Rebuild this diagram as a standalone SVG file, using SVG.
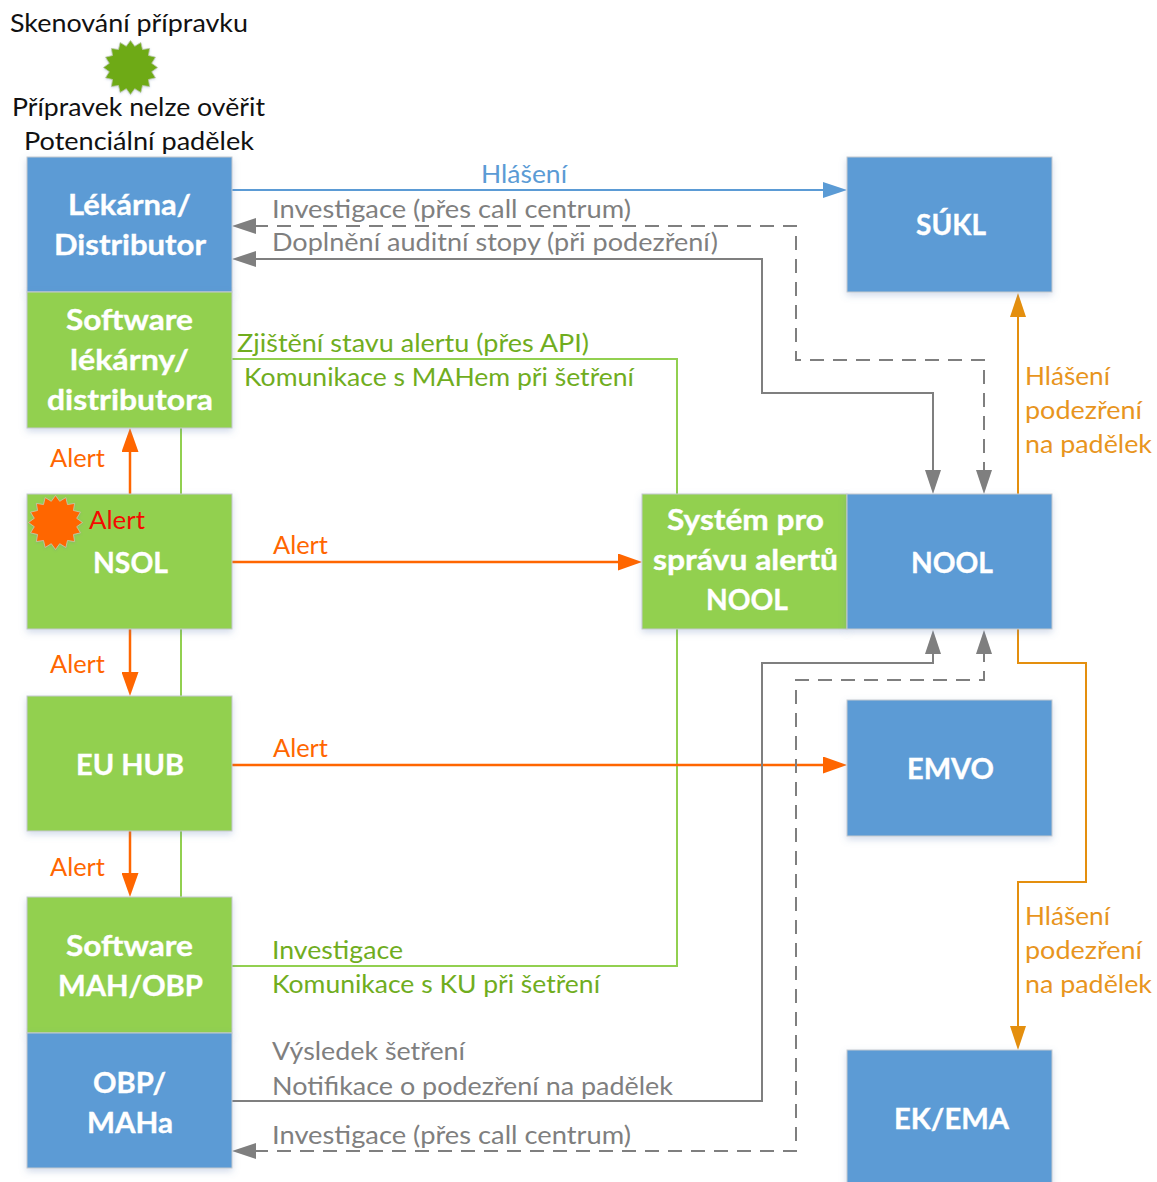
<svg xmlns="http://www.w3.org/2000/svg" width="1157" height="1182" viewBox="0 0 1157 1182">
<style>
text{font-family:"Lato","Carlito","Liberation Sans",sans-serif;font-size:25px}
.b{font-weight:700;font-size:29px;fill:#fff;stroke:#fff;stroke-width:.35}
.box{stroke:#c4c9cf;stroke-width:1;filter:url(#sh)}
.blue{fill:#5b9bd5}.green{fill:#92d050}
.k{fill:#111}.o{fill:#ff6600}.g{fill:#7f7f7f}.lg{fill:#70ad1e}.a{fill:#e8951d}.bt{fill:#5b9bd5}.r{fill:#f50a00}
.c{fill:none;stroke-width:2}
.co{stroke:#ff6600;stroke-width:2.5}.cg{stroke:#7f7f7f}.cl{stroke:#92d050}.ca{stroke:#e48f0e}.cb{stroke:#5b9bd5}
.d{stroke-dasharray:14 9}
</style>
<defs>
<filter id="sh" x="-10%" y="-10%" width="120%" height="125%"><feDropShadow dx="0" dy="3" stdDeviation="3.5" flood-color="#5b7fb5" flood-opacity=".28"/></filter>
<marker id="ao" markerUnits="userSpaceOnUse" markerWidth="24" markerHeight="17" viewBox="0 0 24 17" refX="2" refY="8.5" orient="auto-start-reverse"><path d="M0 0L24 8.5L0 17z" fill="#ff6600"/></marker>
<marker id="ag" markerUnits="userSpaceOnUse" markerWidth="24" markerHeight="16" viewBox="0 0 24 16" refX="2" refY="8" orient="auto-start-reverse"><path d="M0 0L24 8L0 16z" fill="#7f7f7f"/></marker>
<marker id="aa" markerUnits="userSpaceOnUse" markerWidth="24" markerHeight="16" viewBox="0 0 24 16" refX="2" refY="8" orient="auto-start-reverse"><path d="M0 0L24 8L0 16z" fill="#e48f0e"/></marker>
<marker id="ab" markerUnits="userSpaceOnUse" markerWidth="24" markerHeight="16" viewBox="0 0 24 16" refX="2" refY="8" orient="auto-start-reverse"><path d="M0 0L24 8L0 16z" fill="#5b9bd5"/></marker>
<polygon id="star" points="100,0 78.5,15.6 92.4,38.3 66.5,44.4 70.7,70.7 44.4,66.5 38.3,92.4 15.6,78.5 0,100 -15.6,78.5 -38.3,92.4 -44.4,66.5 -70.7,70.7 -66.5,44.4 -92.4,38.3 -78.5,15.6 -100,0 -78.5,-15.6 -92.4,-38.3 -66.5,-44.4 -70.7,-70.7 -44.4,-66.5 -38.3,-92.4 -15.6,-78.5 0,-100 15.6,-78.5 38.3,-92.4 44.4,-66.5 70.7,-70.7 66.5,-44.4 92.4,-38.3 78.5,-15.6"/>
</defs>

<g id="connectors">
<path class="c cb" d="M232 190H825" marker-end="url(#ab)"/>
<path class="c cg d" d="M254 226H796V360H984V472" marker-start="url(#ag)" marker-end="url(#ag)"/>
<path class="c cg" d="M254 259H762V393H933V472" marker-start="url(#ag)" marker-end="url(#ag)"/>
<path class="c cl" d="M232 359H677V494M677 629V966H232M181 428V494M181 629V696M181 831V897"/>
<path class="c co" d="M130 494V450" marker-end="url(#ao)"/>
<path class="c co" d="M130 629V674" marker-end="url(#ao)"/>
<path class="c co" d="M130 831V875" marker-end="url(#ao)"/>
<path class="c co" d="M232 562H620" marker-end="url(#ao)"/>
<path class="c co" d="M232 765H825" marker-end="url(#ao)"/>
<path class="c ca" d="M1018 494V315" marker-end="url(#aa)"/>
<path class="c ca" d="M1018 629V663H1086V882H1018V1028" marker-end="url(#aa)"/>
<path class="c cg" d="M232 1101H762V663H933V652" marker-end="url(#ag)"/>
<path class="c cg d" d="M254 1151H796V680H984V652" marker-start="url(#ag)" marker-end="url(#ag)"/>
</g>

<g id="scan">
<text class="k" x="10" y="32" textLength="238" lengthAdjust="spacingAndGlyphs">Skenování přípravku</text>
<use href="#star" transform="translate(130.5 67.5) scale(.27)" fill="#6eaa14" stroke="#b9c6a5" stroke-width="3" filter="url(#sh)"/>
<text class="k" x="12" y="116" textLength="253" lengthAdjust="spacingAndGlyphs">Přípravek nelze ověřit</text>
<text class="k" x="24" y="150" textLength="230" lengthAdjust="spacingAndGlyphs">Potenciální padělek</text>
</g>

<g id="node-lekarna"><rect class="box blue" x="27" y="157" width="205" height="135"/>
<text class="b" x="68" y="215" textLength="123" lengthAdjust="spacingAndGlyphs">Lékárna/</text>
<text class="b" x="54" y="255" textLength="152" lengthAdjust="spacingAndGlyphs">Distributor</text></g>

<g id="node-software-lekarny"><rect class="box green" x="27" y="292" width="205" height="136"/>
<text class="b" x="66" y="330" textLength="127" lengthAdjust="spacingAndGlyphs">Software</text>
<text class="b" x="70" y="370" textLength="119" lengthAdjust="spacingAndGlyphs">lékárny/</text>
<text class="b" x="47" y="410" textLength="166" lengthAdjust="spacingAndGlyphs">distributora</text></g>

<g id="node-nsol"><rect class="box green" x="27" y="494" width="205" height="135"/>
<use href="#star" transform="translate(55.5 522.5) scale(.27)" fill="#ff6600" stroke="#c9c9b0" stroke-width="3" filter="url(#sh)"/>
<text class="r" x="89" y="529" textLength="56" lengthAdjust="spacingAndGlyphs">Alert</text>
<text class="b" x="93" y="573" textLength="75" lengthAdjust="spacingAndGlyphs">NSOL</text></g>

<g id="node-eu-hub"><rect class="box green" x="27" y="696" width="205" height="135"/>
<text class="b" x="76" y="775" textLength="108" lengthAdjust="spacingAndGlyphs">EU HUB</text></g>

<g id="node-software-mah"><rect class="box green" x="27" y="897" width="205" height="136"/>
<text class="b" x="66" y="956" textLength="127" lengthAdjust="spacingAndGlyphs">Software</text>
<text class="b" x="58" y="996" textLength="145" lengthAdjust="spacingAndGlyphs">MAH/OBP</text></g>

<g id="node-obp"><rect class="box blue" x="27" y="1033" width="205" height="135"/>
<text class="b" x="93" y="1093" textLength="73" lengthAdjust="spacingAndGlyphs">OBP/</text>
<text class="b" x="87" y="1133" textLength="86" lengthAdjust="spacingAndGlyphs">MAHa</text></g>

<g id="node-system"><rect class="box green" x="642" y="494" width="205" height="135"/>
<text class="b" x="667" y="530" textLength="157" lengthAdjust="spacingAndGlyphs">Systém pro</text>
<text class="b" x="653" y="570" textLength="185" lengthAdjust="spacingAndGlyphs">správu alertů</text>
<text class="b" x="706" y="610" textLength="82" lengthAdjust="spacingAndGlyphs">NOOL</text></g>

<g id="node-nool"><rect class="box blue" x="847" y="494" width="205" height="135"/>
<text class="b" x="911" y="573" textLength="82" lengthAdjust="spacingAndGlyphs">NOOL</text></g>

<g id="node-sukl"><rect class="box blue" x="847" y="157" width="205" height="135"/>
<text class="b" x="916" y="235" textLength="70" lengthAdjust="spacingAndGlyphs">SÚKL</text></g>

<g id="node-emvo"><rect class="box blue" x="847" y="700" width="205" height="136"/>
<text class="b" x="907" y="779" textLength="87" lengthAdjust="spacingAndGlyphs">EMVO</text></g>

<g id="node-ek-ema"><rect class="box blue" x="847" y="1050" width="205" height="140"/>
<text class="b" x="894" y="1129" textLength="115" lengthAdjust="spacingAndGlyphs">EK/EMA</text></g>

<g id="labels">
<text class="bt" x="481" y="183" textLength="86" lengthAdjust="spacingAndGlyphs">Hlášení</text>
<text class="g" x="272" y="218" textLength="359" lengthAdjust="spacingAndGlyphs">Investigace (přes call centrum)</text>
<text class="g" x="272" y="251" textLength="446" lengthAdjust="spacingAndGlyphs">Doplnění auditní stopy (při podezření)</text>
<text class="lg" x="237" y="352" textLength="352" lengthAdjust="spacingAndGlyphs">Zjištění stavu alertu (přes API)</text>
<text class="lg" x="244" y="386" textLength="390" lengthAdjust="spacingAndGlyphs">Komunikace s MAHem při šetření</text>
<text class="o" x="50" y="467" textLength="55" lengthAdjust="spacingAndGlyphs">Alert</text>
<text class="o" x="50" y="673" textLength="55" lengthAdjust="spacingAndGlyphs">Alert</text>
<text class="o" x="50" y="876" textLength="55" lengthAdjust="spacingAndGlyphs">Alert</text>
<text class="o" x="273" y="554" textLength="55" lengthAdjust="spacingAndGlyphs">Alert</text>
<text class="o" x="273" y="757" textLength="55" lengthAdjust="spacingAndGlyphs">Alert</text>
<text class="a" x="1025" y="385" textLength="85" lengthAdjust="spacingAndGlyphs">Hlášení</text>
<text class="a" x="1025" y="419" textLength="117" lengthAdjust="spacingAndGlyphs">podezření</text>
<text class="a" x="1025" y="453" textLength="127" lengthAdjust="spacingAndGlyphs">na padělek</text>
<text class="a" x="1025" y="925" textLength="85" lengthAdjust="spacingAndGlyphs">Hlášení</text>
<text class="a" x="1025" y="959" textLength="117" lengthAdjust="spacingAndGlyphs">podezření</text>
<text class="a" x="1025" y="993" textLength="127" lengthAdjust="spacingAndGlyphs">na padělek</text>
<text class="lg" x="272" y="959" textLength="131" lengthAdjust="spacingAndGlyphs">Investigace</text>
<text class="lg" x="272" y="993" textLength="328" lengthAdjust="spacingAndGlyphs">Komunikace s KU při šetření</text>
<text class="g" x="272" y="1060" textLength="193" lengthAdjust="spacingAndGlyphs">Výsledek šetření</text>
<text class="g" x="272" y="1095" textLength="401" lengthAdjust="spacingAndGlyphs">Notifikace o podezření na padělek</text>
<text class="g" x="272" y="1144" textLength="359" lengthAdjust="spacingAndGlyphs">Investigace (přes call centrum)</text>
</g>
</svg>
